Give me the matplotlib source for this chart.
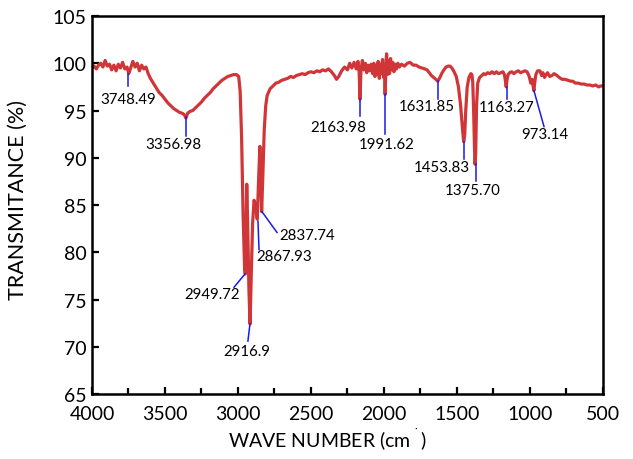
import matplotlib
matplotlib.use("Agg")
import matplotlib.pyplot as plt
from matplotlib.ticker import MultipleLocator

FONT = ["Lato", "DejaVu Sans"]
RED = "#d03638"
BLUE = "#1a1aee"

# spectrum (wavenumber cm-1, transmittance %)
wavenumber = [
    4000, 3985, 3970, 3955, 3940, 3925, 3910, 3895, 3880, 3865, 3850, 3835,
    3820, 3805, 3790, 3775, 3760, 3748, 3735, 3720, 3705, 3690, 3675, 3660,
    3645, 3630, 3615, 3600, 3580, 3560, 3540, 3520, 3500, 3480, 3460, 3440,
    3420, 3400, 3380, 3365, 3357, 3345, 3330, 3310, 3290, 3270, 3250, 3230,
    3210, 3190, 3170, 3150, 3130, 3110, 3090, 3070, 3050, 3030, 3010, 2995,
    2985, 2975, 2965, 2955, 2950, 2945, 2940, 2935, 2925, 2917, 2910, 2900,
    2890, 2880, 2868, 2858, 2850, 2844, 2838, 2830, 2820, 2810, 2800, 2780,
    2760, 2740, 2720, 2700, 2680, 2660, 2640, 2620, 2600, 2580, 2560, 2540,
    2520, 2500, 2480, 2460, 2440, 2420, 2400, 2380, 2360, 2340, 2325, 2310,
    2290, 2270, 2250, 2235, 2220, 2205, 2190, 2178, 2170, 2164, 2158, 2148,
    2138, 2128, 2118, 2108, 2098, 2088, 2078, 2070, 2062, 2055, 2048, 2040,
    2032, 2025, 2018, 2010, 2003, 1997, 1992, 1986, 1982, 1976, 1970, 1962,
    1955, 1948, 1940, 1932, 1924, 1915, 1905, 1895, 1880, 1860, 1840, 1822,
    1800, 1780, 1760, 1740, 1720, 1705, 1690, 1675, 1660, 1645, 1632, 1620,
    1605, 1590, 1575, 1560, 1548, 1535, 1520, 1505, 1490, 1475, 1462, 1454,
    1447, 1440, 1430, 1418, 1405, 1398, 1392, 1386, 1380, 1376, 1372, 1366,
    1358, 1345, 1330, 1318, 1305, 1290, 1275, 1260, 1245, 1230, 1215, 1200,
    1185, 1175, 1167, 1163, 1158, 1150, 1140, 1125, 1110, 1095, 1080, 1065,
    1050, 1035, 1020, 1005, 995, 985, 977, 973, 968, 960, 948, 932,
    920, 912, 900, 890, 880, 865, 850, 835, 815, 800, 780, 760,
    740, 720, 706, 690, 670, 650, 630, 610, 590, 570, 550, 530,
    515, 500,
]
transmittance = [
    99.5, 99.7, 99.4, 99.8, 100.0, 99.6, 100.3, 99.7, 99.9, 99.3, 99.8, 99.2,
    99.9, 99.5, 100.1, 99.4, 99.6, 98.9, 99.5, 100.2, 99.6, 100.0, 99.2, 99.8,
    99.4, 99.6, 98.9, 98.4, 97.9, 97.4, 96.9, 96.6, 96.2, 95.8, 95.5, 95.2,
    95.0, 94.8, 94.7, 94.5, 94.2, 94.7, 94.9, 95.0, 95.3, 95.6, 95.9, 96.3,
    96.6, 96.9, 97.3, 97.6, 97.9, 98.2, 98.4, 98.6, 98.7, 98.8, 98.8, 98.6,
    97.0, 92.0, 84.0, 78.5, 77.7, 82.0, 87.2, 84.0, 76.0, 72.4, 77.0, 83.0,
    85.5, 85.0, 83.5, 88.0, 91.2, 88.0, 84.3, 88.0, 93.0, 95.5, 96.6, 97.3,
    97.6, 97.9, 98.0, 98.2, 98.3, 98.4, 98.6, 98.5, 98.7, 98.8, 98.9, 98.8,
    99.0, 99.1, 99.0, 99.2, 99.1, 99.3, 99.2, 99.4, 99.1, 98.7, 98.3, 98.6,
    99.2, 99.6, 99.3, 100.0, 99.5, 100.1, 99.4, 100.2, 99.0, 96.2, 99.2, 100.3,
    99.3, 100.0, 99.0, 99.8, 99.2, 99.9, 98.9, 100.0, 98.6, 99.8, 98.8, 100.2,
    98.4, 99.9, 98.9, 100.4, 98.5, 99.6, 96.7, 100.2, 101.0, 98.8, 100.3, 98.9,
    100.5, 99.3, 100.1, 99.1, 99.9, 99.4, 100.0, 99.6, 99.9, 99.7, 100.0, 100.1,
    99.8, 99.8, 99.6, 99.5, 99.4, 99.3, 99.0, 98.7, 98.5, 98.3, 98.1, 98.4,
    98.9, 99.3, 99.6, 99.7, 99.7, 99.5, 99.1, 98.6, 97.5, 95.5, 93.0, 91.7,
    92.5, 95.0, 97.5, 98.5, 98.9, 98.8, 98.0, 95.0, 91.0, 89.3, 90.5, 95.5,
    97.9, 98.5, 98.7, 98.9, 98.8, 99.0, 98.9, 99.1, 98.9, 99.1, 98.9, 99.0,
    99.1, 98.8, 98.0, 97.5, 98.2, 98.8, 99.0, 99.1, 98.9, 99.1, 99.2, 99.0,
    99.1, 99.2, 99.1, 98.6, 97.9, 98.3, 97.4, 97.1, 97.9, 98.8, 99.2, 99.2,
    98.7, 99.0, 98.5, 98.8, 99.0, 98.6, 98.7, 98.9, 98.7, 98.5, 98.3, 98.3,
    98.2, 98.1, 98.1, 97.9, 97.9, 97.8, 97.8, 97.7, 97.7, 97.6, 97.7, 97.5,
    97.6, 97.6,
]

# peak labels: text, leader line (start -> end), text centre
peak_labels = ["3748.49", "3356.98", "2949.72", "2916.9", "2867.93", "2837.74",
               "2163.98", "1991.62", "1631.85", "1453.83", "1375.70", "1163.27",
               "973.14"]
line_start = [(3750, 98.9), (3356, 94.3), (2952, 77.7), (2918, 72.4),
              (2863, 83.3), (2836, 84.3), (2164, 96.2), (1993, 96.7),
              (1630, 98.1), (1452, 91.7), (1372, 89.3), (1160, 97.5),
              (973, 97.1)]
line_end = [(3750, 97.6), (3356, 92.3), (3027, 76.3), (2932, 70.6),
            (2856, 80.3), (2733, 82.1), (2164, 94.4), (1993, 92.5),
            (1630, 96.2), (1452, 89.9), (1372, 87.5), (1160, 96.2),
            (904, 93.3)]
text_pos = [(3753, 96.2), (3445, 91.5), (3178, 75.6), (2938, 69.6),
            (2685, 79.6), (2527, 81.8), (2315, 93.3), (1979, 91.5),
            (1705, 95.5), (1603, 89.0), (1390, 86.6), (1158, 95.4),
            (897, 92.5)]

fig = plt.figure(figsize=(6.33, 4.6), dpi=100)
ax = fig.add_axes([0.1453, 0.1413, 0.8073, 0.8217])

ax.plot(wavenumber, transmittance, color=RED, lw=2.3, solid_joinstyle="round")

for lab, (x0, y0), (x1, y1), (tx, ty) in zip(peak_labels, line_start,
                                              line_end, text_pos):
    ax.plot([x0, x1], [y0, y1], color=BLUE, lw=1.1)
    ax.text(tx, ty, lab, ha="center", va="center", fontsize=10.8,
            family=FONT, color="black")

ax.set_xlim(4000, 500)
ax.set_ylim(65, 105)
ax.xaxis.set_major_locator(MultipleLocator(500))
ax.xaxis.set_minor_locator(MultipleLocator(250))
ax.yaxis.set_major_locator(MultipleLocator(5))
ax.tick_params(which="both", direction="in", width=1.6, labelsize=14)
ax.tick_params(which="major", length=5)
ax.tick_params(which="minor", length=4)
for lbl in ax.get_xticklabels() + ax.get_yticklabels():
    lbl.set_family(FONT)
ax.tick_params(axis="x", pad=8)
ax.tick_params(axis="y", pad=4)
for sp in ax.spines.values():
    sp.set_linewidth(1.8)

ax.set_ylabel("TRANSMITANCE (%)", fontsize=15.5, family=FONT)
ax.yaxis.set_label_coords(-0.125, 0.515)
fig.text(327 / 633, 1 - 440 / 460, "WAVE NUMBER (cm$^{\u2009\u02d9}$)",
         ha="center", va="center", fontsize=14, family=FONT)

fig.savefig("out.png", dpi=100, facecolor="white")
